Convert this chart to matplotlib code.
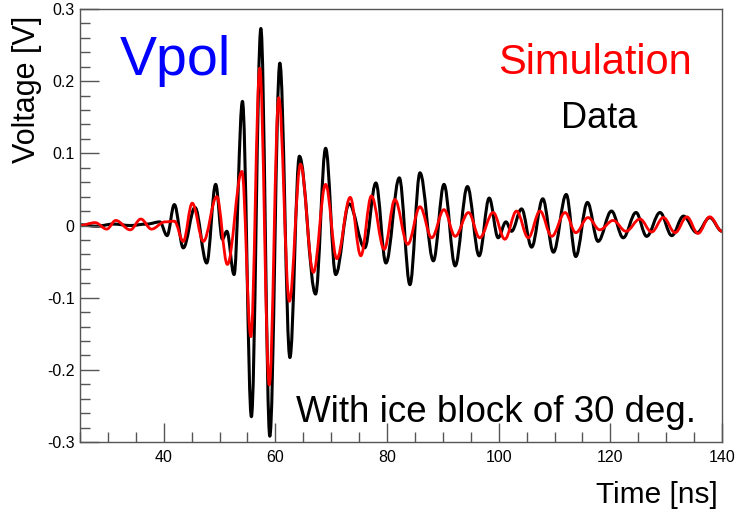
import matplotlib
matplotlib.use('Agg')
import matplotlib.pyplot as plt
from matplotlib.path import Path
from matplotlib.patches import PathPatch
from matplotlib.ticker import MultipleLocator

plt.rcParams['font.family'] = ['Liberation Sans', 'DejaVu Sans']

# simulation waveform (red): extrema in time order
sim_t = [25, 27.7, 29.8, 31.4, 34.0, 35.9, 37.8, 40.2, 41.9, 43.5, 45.1, 47.1,
         49.5, 51.4, 54.0, 55.6, 57.2, 58.9, 60.6, 62.5, 64.5, 66.8, 69.0, 71.0,
         73.4, 75.3, 77.2, 79.5, 81.4, 83.7, 85.9, 88.0, 90.2, 92.2, 94.6, 96.6,
         99.0, 101.1, 103.2, 105.3, 107.4, 109.5, 111.9, 113.8, 116.0, 118.1,
         120.5, 122.8, 125.3, 127.4, 129.5, 131.6, 133.7, 135.7, 137.8, 140]
sim_v = [0.0, 0.004, -0.005, 0.007, -0.006, 0.009, -0.005, 0.005, 0.006, -0.022,
         0.031, -0.022, 0.040, -0.054, 0.075, -0.154, 0.218, -0.221, 0.177,
         -0.105, 0.085, -0.065, 0.057, -0.046, 0.039, -0.042, 0.041, -0.033,
         0.036, -0.026, 0.026, -0.017, 0.022, -0.015, 0.018, -0.017, 0.018,
         -0.019, 0.020, -0.017, 0.020, -0.015, 0.018, -0.010, 0.011, -0.006,
         0.007, -0.008, 0.009, -0.009, 0.011, -0.010, 0.012, -0.011, 0.012, -0.008]

# measured waveform (black)
data_t = [25, 28, 31, 34, 37, 39.3, 40.6, 41.9, 43.5, 45.6, 47.7, 49.3, 50.5,
          51.3, 52.6, 54.1, 55.7, 57.4, 59.0, 60.8, 62.6, 64.3, 67.2, 69.0,
          70.8, 73.2, 76.0, 78.0, 79.8, 82.2, 84.1, 85.9, 88.3, 90.2, 92.2,
          94.4, 96.5, 98.3, 99.9, 101.3, 102.3, 104.1, 105.9, 107.9, 109.8,
          112.1, 113.8, 115.9, 117.8, 120.2, 122.3, 124.6, 126.5, 128.9, 131.0,
          133.1, 135.5, 137.8, 140]
data_v = [0.001, -0.001, 0.002, 0.0, 0.002, 0.005, -0.014, 0.029, -0.031, 0.025,
          -0.052, 0.057, -0.019, -0.008, -0.068, 0.172, -0.265, 0.273, -0.292,
          0.225, -0.183, 0.096, -0.095, 0.107, -0.068, 0.030, -0.031, 0.059,
          -0.052, 0.066, -0.082, 0.073, -0.049, 0.057, -0.056, 0.054, -0.042,
          0.038, -0.017, 0.005, -0.008, 0.023, -0.030, 0.037, -0.037, 0.043,
          -0.043, 0.032, -0.022, 0.020, -0.017, 0.018, -0.015, 0.018, -0.014,
          0.013, -0.010, 0.011, -0.008]


def wave_path(t, v, k=0.364):
    # cubic segments with flat tangents at every extremum
    verts = [(t[0], v[0])]
    codes = [Path.MOVETO]
    for i in range(1, len(t)):
        d = t[i] - t[i - 1]
        verts += [(t[i - 1] + k * d, v[i - 1]), (t[i] - k * d, v[i]), (t[i], v[i])]
        codes += [Path.CURVE4] * 3
    return Path(verts, codes)


W, H = 737, 515
fig = plt.figure(figsize=(W / 100, H / 100), dpi=100)
ax = fig.add_axes([80 / W, (H - 442) / H, (722 - 80) / W, (442 - 9) / H])

ax.add_patch(PathPatch(wave_path(data_t, data_v), fill=False, ec='black',
                       lw=2.2, joinstyle='round'))
ax.add_patch(PathPatch(wave_path(sim_t, sim_v), fill=False, ec='#ff0000',
                       lw=2.0, joinstyle='round'))

ax.set_xlim(25, 140)
ax.set_ylim(-0.3, 0.3)
ax.xaxis.set_major_locator(MultipleLocator(20))
ax.xaxis.set_minor_locator(MultipleLocator(5))
ax.yaxis.set_minor_locator(MultipleLocator(0.02))
ax.set_yticks([-0.3, -0.2, -0.1, 0, 0.1, 0.2, 0.3])
ax.set_yticklabels(['-0.3', '-0.2', '-0.1', '0', '0.1', '0.2', '0.3'])

axc = '#555555'
for s in ax.spines.values():
    s.set_color(axc)
    s.set_linewidth(1.0)
ax.tick_params(which='both', direction='in', color=axc, width=1.0,
               top=False, right=False, labelsize=11.5)
ax.tick_params(which='major', length=13.5)
ax.tick_params(which='minor', length=7)
ax.tick_params(axis='x', pad=6)
ax.tick_params(axis='y', pad=4)

fig.text(27 / W, 1 - 16 / H, 'Voltage [V]', rotation=90, ha='center', va='top',
         fontsize=22)
fig.text(718 / W, 1 - 503 / H, 'Time [ns]', ha='right', va='baseline', fontsize=21.5)

fig.text(120 / W, 1 - 75 / H, 'Vpol', color='#0000ff', fontsize=40, va='baseline')
fig.text(692 / W, 1 - 74 / H, 'Simulation', color='#ff0000', fontsize=30,
         ha='right', va='baseline')
fig.text(637 / W, 1 - 128 / H, 'Data', color='black', fontsize=26,
         ha='right', va='baseline')
fig.text(696 / W, 1 - 422 / H, 'With ice block of 30 deg.', color='black',
         fontsize=26.5, ha='right', va='baseline')

fig.savefig('out.png', dpi=100)
